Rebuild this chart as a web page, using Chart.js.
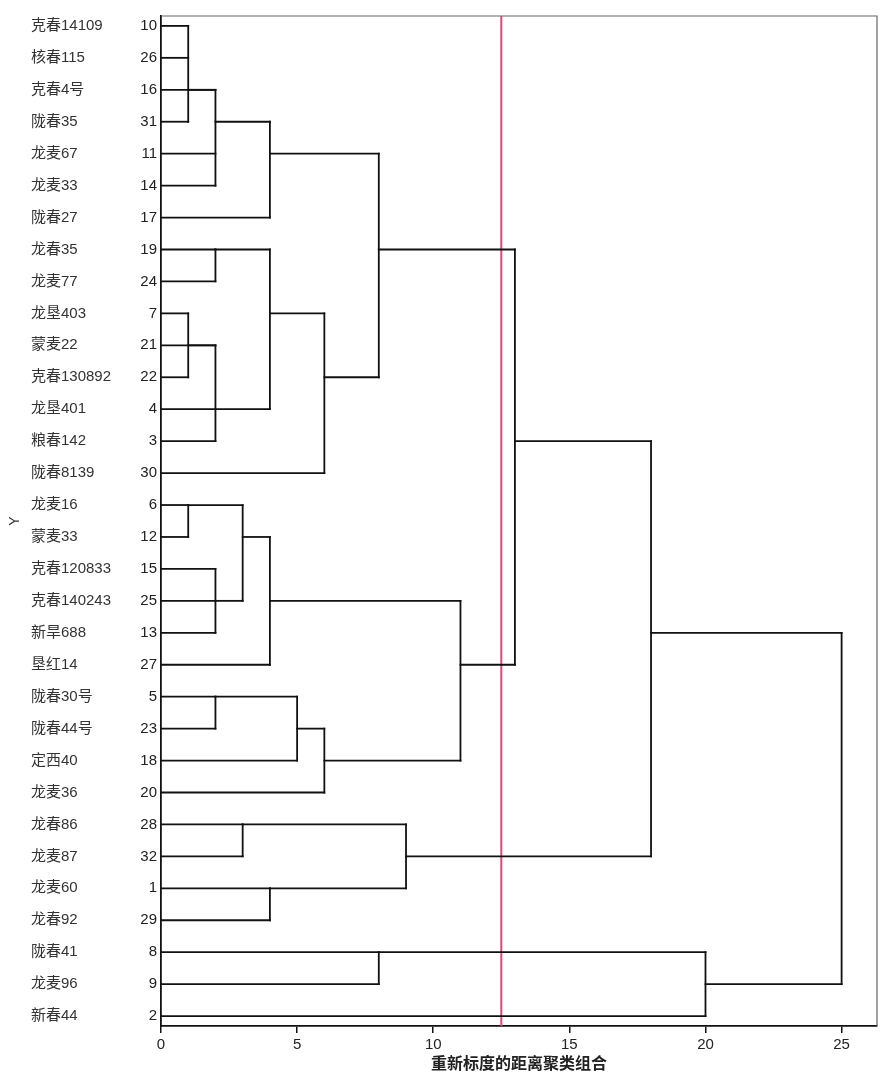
<!DOCTYPE html>
<html lang="zh">
<head>
    <meta charset="UTF-8">
    <title>聚类树状图</title>
    <script src="https://cdn.jsdelivr.net/npm/chart.js"></script>
    <style>
        body {
            margin: 0;
            background-color: white;
        }
        .chart-container {
            position: relative;
            width: 886px;
            height: 1088px;
        }
    </style>
</head>
<body>
    <div class="chart-container">
        <canvas id="chart"></canvas>
    </div>

    <script>
        // Leaves, top to bottom
        const leafNames = ['克春14109', '核春115', '克春4号', '陇春35', '龙麦67', '龙麦33', '陇春27',
            '龙春35', '龙麦77', '龙垦403', '蒙麦22', '克春130892', '龙垦401', '粮春142', '陇春8139',
            '龙麦16', '蒙麦33', '克春120833', '克春140243', '新旱688', '垦红14', '陇春30号', '陇春44号',
            '定西40', '龙麦36', '龙春86', '龙麦87', '龙麦60', '龙春92', '陇春41', '龙麦96', '新春44'];
        const leafIds = [10, 26, 16, 31, 11, 14, 17, 19, 24, 7, 21, 22, 4, 3, 30, 6, 12, 15, 25, 13, 27,
            5, 23, 18, 20, 28, 32, 1, 29, 8, 9, 2];

        // Merge steps: rescaled distance, members (number = leaf row, 'nK' = merge K), row of the outgoing line
        const mergeDist = [1, 2, 4, 2, 1, 2, 4, 6, 8, 1, 2, 3, 4, 2, 5, 6, 11, 13, 3, 4, 9, 18, 8, 20, 25];
        const mergeMembers = [
            [0, 1, 3], ['n0', 2, 4, 5], ['n1', 6], [7, 8], [9, 11], ['n4', 10, 12, 13], ['n3', 'n5'],
            ['n6', 14], ['n2', 'n7'], [15, 16], [17, 18, 19], ['n9', 'n10'], ['n11', 20], [21, 22],
            ['n13', 23], ['n14', 24], ['n12', 'n15'], ['n8', 'n16'], [25, 26], [27, 28], ['n18', 'n19'],
            ['n17', 'n20'], [29, 30], ['n22', 31], ['n21', 'n23']
        ];
        const mergeRow = [2, 3, 4, 7, 10, 12, 9, 11, 7, 15, 18, 16, 18, 21, 22, 23, 20, 13, 25, 27, 26, 19, 29, 30, null];

        const xTicks = [0, 5, 10, 15, 20, 25];
        const cutDistance = 12.5;

        // Build line segments from the merge table
        const segments = [];
        mergeMembers.forEach((members, k) => {
            const d = mergeDist[k];
            const rows = [];
            members.forEach(m => {
                let row, start;
                if (typeof m === 'number') {
                    row = m; start = 0;
                } else {
                    const c = parseInt(m.slice(1));
                    row = mergeRow[c]; start = mergeDist[c];
                }
                rows.push(row);
                segments.push([{ x: start, y: row }, { x: d, y: row }]);
            });
            segments.push([{ x: d, y: Math.min(...rows) }, { x: d, y: Math.max(...rows) }]);
        });

        const yMin = -0.31, yMax = 31.31;

        const datasets = segments.map(seg => ({
            data: seg,
            yAxisID: 'yNum',
            borderColor: '#111',
            borderWidth: 1.8,
            pointRadius: 0,
            showLine: true,
            borderCapStyle: 'square'
        }));
        datasets.push({
            data: [{ x: cutDistance, y: yMin }, { x: cutDistance, y: yMax }],
            yAxisID: 'yNum',
            borderColor: '#e0487a',
            borderWidth: 2,
            pointRadius: 0,
            showLine: true
        });

        const leafRows = leafNames.map((n, i) => ({ value: i }));
        const labelFont = { family: "'Liberation Sans', 'Noto Sans CJK SC', sans-serif", size: 15 };

        // Thin frame on top and right
        const framePlugin = {
            id: 'frame',
            afterDraw(chart) {
                const { ctx, chartArea: a } = chart;
                ctx.save();
                ctx.strokeStyle = '#666';
                ctx.lineWidth = 1.2;
                ctx.beginPath();
                ctx.moveTo(a.left, a.top);
                ctx.lineTo(a.right, a.top);
                ctx.lineTo(a.right, a.bottom);
                ctx.stroke();
                ctx.restore();
            }
        };

        new Chart(document.getElementById('chart').getContext('2d'), {
            type: 'scatter',
            data: { datasets },
            plugins: [framePlugin],
            options: {
                responsive: true,
                maintainAspectRatio: false,
                animation: false,
                layout: { padding: { top: 16, right: 9, left: 0, bottom: 0 } },
                plugins: {
                    legend: { display: false },
                    tooltip: { enabled: false }
                },
                scales: {
                    x: {
                        type: 'linear',
                        min: 0,
                        max: 26.3,
                        afterBuildTicks: s => { s.ticks = xTicks.map(v => ({ value: v })); },
                        afterFit: s => { s.height = 62; },
                        ticks: { font: labelFont, color: '#222', padding: 3, maxRotation: 0 },
                        grid: { drawOnChartArea: false, drawTicks: true, tickLength: 7, color: '#111', lineWidth: 1.5 },
                        border: { display: true, color: '#111', width: 1.8 },
                        title: {
                            display: true,
                            text: '重新标度的距离聚类组合',
                            font: { family: "'Noto Sans CJK SC', sans-serif", size: 16, weight: 'bold' },
                            color: '#222',
                            padding: { top: 0, bottom: 15 }
                        }
                    },
                    yNum: {
                        type: 'linear',
                        position: 'left',
                        weight: 0,
                        min: yMin,
                        max: yMax,
                        reverse: true,
                        afterBuildTicks: s => { s.ticks = leafRows.map(t => ({ value: t.value })); },
                        afterFit: s => { s.width = 34; },
                        ticks: {
                            font: labelFont,
                            color: '#222',
                            padding: 4,
                            callback: v => leafIds[v]
                        },
                        grid: { display: false, drawTicks: false },
                        border: { display: true, color: '#111', width: 1.8 }
                    },
                    yName: {
                        type: 'linear',
                        position: 'left',
                        weight: 1,
                        min: yMin,
                        max: yMax,
                        reverse: true,
                        afterBuildTicks: s => { s.ticks = leafRows.map(t => ({ value: t.value })); },
                        afterFit: s => { s.width = 96; },
                        ticks: {
                            font: labelFont,
                            color: '#333',
                            padding: 4,
                            crossAlign: 'far',
                            callback: v => leafNames[v]
                        },
                        grid: { display: false, drawTicks: false },
                        border: { display: false }
                    },
                    yTitle: {
                        type: 'linear',
                        position: 'left',
                        weight: 2,
                        min: yMin,
                        max: yMax,
                        reverse: true,
                        afterFit: s => { s.width = 31; },
                        ticks: { display: false },
                        grid: { display: false, drawTicks: false },
                        border: { display: false },
                        title: {
                            display: true,
                            text: 'Y',
                            font: { family: "'Liberation Sans', sans-serif", size: 14 },
                            color: '#333',
                            padding: { top: 7, bottom: 0 }
                        }
                    }
                }
            }
        });
    </script>
</body>
</html>
